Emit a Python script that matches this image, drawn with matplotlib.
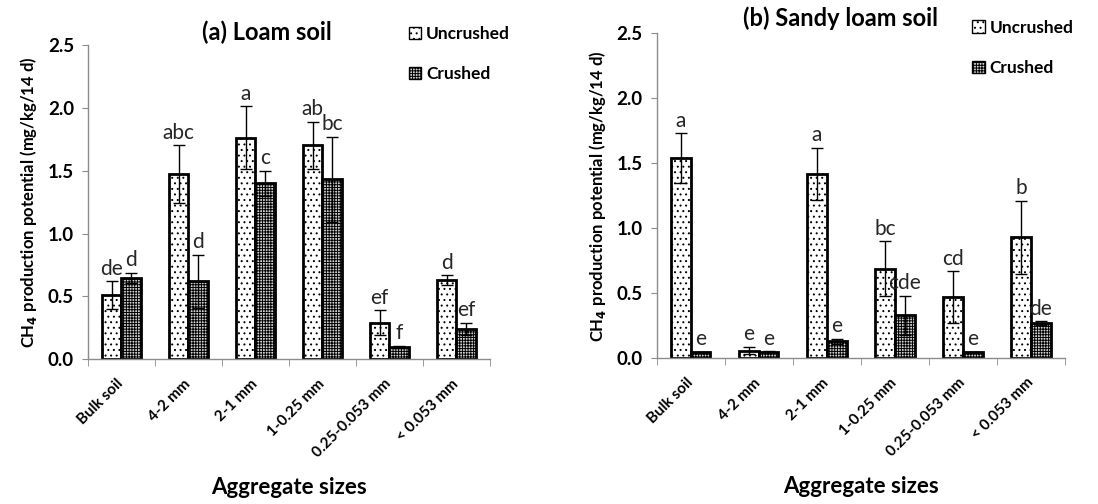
import matplotlib
matplotlib.use("Agg")
import matplotlib.pyplot as plt
from matplotlib.transforms import ScaledTranslation
import numpy as np

plt.rcParams['font.family'] = ['Lato', 'DejaVu Sans']
plt.rcParams['hatch.linewidth'] = 0.7

categories = ["Bulk soil", "4-2 mm", "2-1 mm", "1-0.25 mm", "0.25-0.053 mm", "< 0.053 mm"]

loam_uncrushed = [0.51, 1.47, 1.76, 1.70, 0.29, 0.63]
loam_uncrushed_err = [0.11, 0.23, 0.25, 0.19, 0.10, 0.04]
loam_crushed = [0.65, 0.62, 1.40, 1.43, 0.10, 0.24]
loam_crushed_err = [0.04, 0.21, 0.10, 0.34, 0.01, 0.05]
loam_uncrushed_letters = ["de", "abc", "a", "ab", "ef", "d"]
loam_crushed_letters = ["d", "d", "c", "bc", "f", "ef"]

sandy_uncrushed = [1.54, 0.06, 1.42, 0.69, 0.47, 0.93]
sandy_uncrushed_err = [0.19, 0.03, 0.20, 0.21, 0.20, 0.28]
sandy_crushed = [0.05, 0.05, 0.13, 0.33, 0.05, 0.27]
sandy_crushed_err = [0.0, 0.005, 0.02, 0.15, 0.0, 0.015]
sandy_uncrushed_letters = ["a", "e", "a", "bc", "cd", "b"]
sandy_crushed_letters = ["e", "e", "e", "cde", "e", "de"]

fig = plt.figure(figsize=(10.98, 5.04), dpi=100)
ax1 = fig.add_axes([0.080, 0.287, 0.366, 0.624])
ax2 = fig.add_axes([0.598, 0.289, 0.372, 0.645])

w = 0.29
grey = '#8c8c8c'


def draw(ax, u, ue, c, ce, ul, cl, title, tpos, lpos):
    x = np.arange(len(categories))
    ax.bar(x - w / 2, u, w, color='white', edgecolor='black', linewidth=2,
           hatch='...', label='Uncrushed', zorder=2)
    ax.bar(x + w / 2, c, w, color='#d0d0d0', edgecolor='black', linewidth=2,
           hatch='++++++', label='Crushed', zorder=2)
    ax.errorbar(x - w / 2, u, yerr=ue, fmt='none', ecolor='black', elinewidth=1,
                capsize=4, capthick=1, zorder=3)
    ax.errorbar(x + w / 2, c, yerr=ce, fmt='none', ecolor='black', elinewidth=1,
                capsize=4, capthick=1, zorder=3)
    for i in range(len(categories)):
        ax.text(x[i] - w / 2, u[i] + ue[i] + 0.02, ul[i], ha='center', va='bottom',
                fontsize=15, color='#262626')
        ax.text(x[i] + w / 2, c[i] + ce[i] + 0.02, cl[i], ha='center', va='bottom',
                fontsize=15, color='#262626')
    ax.set_xlim(-0.5, len(categories) - 0.5)
    ax.set_ylim(0, 2.5)
    ax.set_yticks(np.arange(0, 2.51, 0.5))
    ax.set_yticklabels([f"{v:.1f}" for v in np.arange(0, 2.51, 0.5)],
                       fontsize=13.5, fontweight='bold')
    ax.set_xticks(x)
    ax.set_xticklabels(categories, rotation=45, ha='right', va='center',
                       rotation_mode='anchor', fontsize=11, fontweight='bold')
    shift = ScaledTranslation(8 / 100, 0, fig.dpi_scale_trans)
    for lab in ax.get_xticklabels():
        lab.set_transform(lab.get_transform() + shift)
    ax.set_xticks(np.arange(-0.5, len(categories), 1.0), minor=True)
    ax.tick_params(axis='x', which='major', length=0, pad=16)
    ax.tick_params(axis='x', which='minor', length=5, color=grey, direction='out')
    ax.tick_params(axis='y', length=4, color=grey, direction='out', pad=6)
    for s in ['top', 'right']:
        ax.spines[s].set_visible(False)
    for s in ['left', 'bottom']:
        ax.spines[s].set_color(grey)
        ax.spines[s].set_linewidth(1)
    ax.set_ylabel(r"CH$_\mathbf{4}$ production potential (mg/kg/14 d)",
                  fontsize=12, fontweight='bold', labelpad=6)
    ax.set_xlabel("Aggregate sizes", fontsize=16, fontweight='bold', labelpad=12)
    ax.text(tpos[0], tpos[1], title, transform=ax.transAxes, ha='center', va='center',
            fontsize=17, fontweight='bold')
    leg = ax.legend(loc='upper left', bbox_to_anchor=lpos, frameon=False,
                    handlelength=0.7, handleheight=0.7, handletextpad=0.3,
                    labelspacing=1.4, prop={'weight': 'bold', 'size': 12.5})
    for h in leg.legend_handles:
        h.set_linewidth(1)


draw(ax1, loam_uncrushed, loam_uncrushed_err, loam_crushed, loam_crushed_err,
     loam_uncrushed_letters, loam_crushed_letters, "(a) Loam soil", (0.445, 1.04),
     (0.76, 1.11))
draw(ax2, sandy_uncrushed, sandy_uncrushed_err, sandy_crushed, sandy_crushed_err,
     sandy_uncrushed_letters, sandy_crushed_letters, "(b) Sandy loam soil", (0.449, 1.045),
     (0.735, 1.09))

fig.savefig("out.png", dpi=100)
